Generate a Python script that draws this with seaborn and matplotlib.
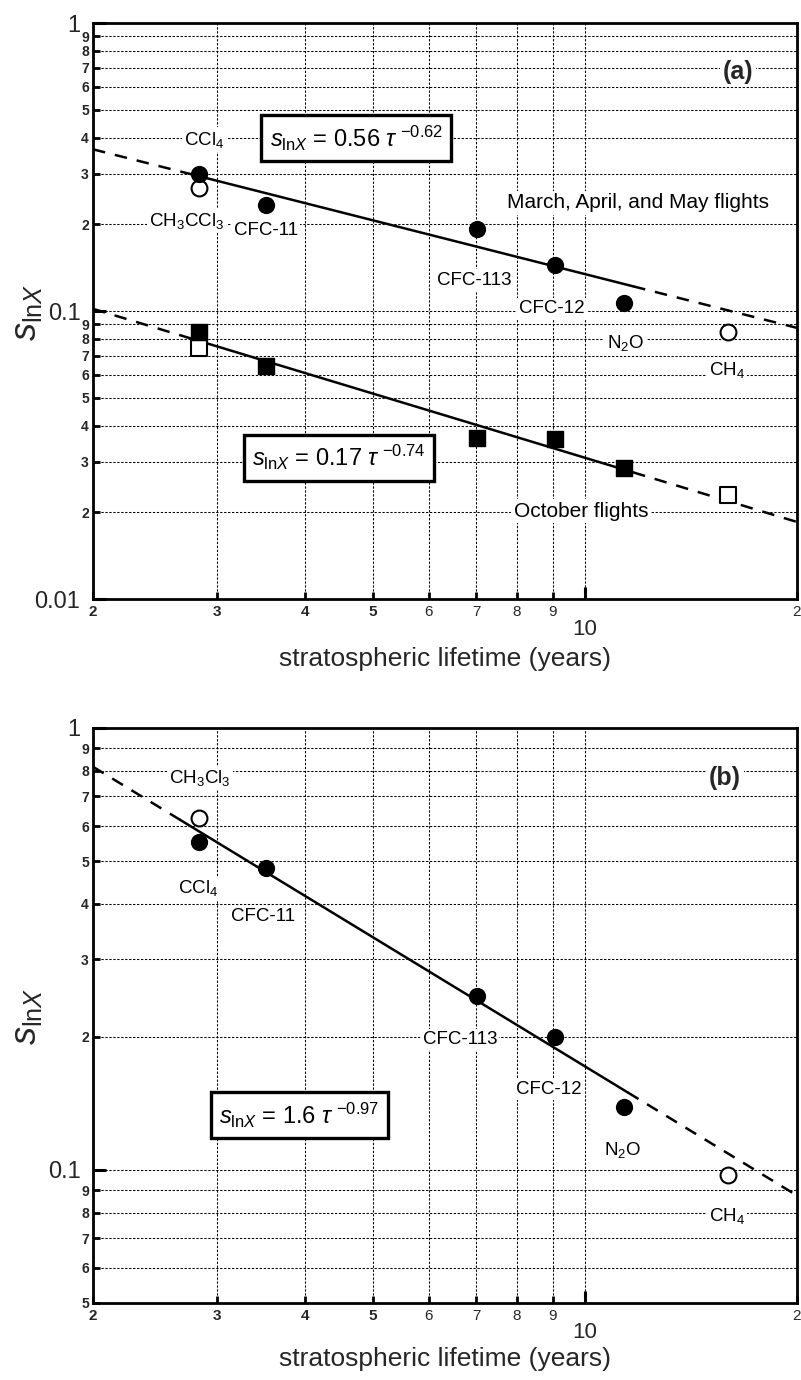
import numpy as np
import pandas as pd
import matplotlib
matplotlib.use("Agg")
import matplotlib.pyplot as plt
import seaborn as sns
from matplotlib.ticker import FixedLocator, FixedFormatter

# ---------------- data ----------------
species = ["CCl$_4$", "CH$_3$CCl$_3$", "CFC-11", "CFC-113", "CFC-12", "N$_2$O", "CH$_4$"]
tau = [2.83, 2.83, 3.52, 7.02, 9.05, 11.35, 15.95]           # stratospheric lifetime (years)
is_open = [False, True, False, False, False, False, True]

spring_a = [0.300, 0.268, 0.234, 0.193, 0.145, 0.107, 0.0845]    # March-May flights
october_a = [0.0845, 0.0743, 0.0643, 0.0362, 0.0360, 0.0284, 0.0229]  # October flights
panel_b = [0.553, 0.626, 0.483, 0.247, 0.200, 0.139, 0.0975]

# fitted power laws  s = A * tau^B
fit_spring = (0.56, -0.62)
fit_october = (0.17, -0.74)
fit_b = (1.6, -0.97)

x_ticks_minor = [2, 3, 4, 5, 6, 7, 8, 9, 20]
x_minor_labels = ["2", "3", "4", "5", "6", "7", "8", "9", "2"]
x_ticks_major = [10]
x_major_labels = ["10"]

# ---------------- style ----------------
sns.set_style("ticks")
plt.rcParams["font.family"] = ["Liberation Sans", "DejaVu Sans"]
plt.rcParams["mathtext.fontset"] = "custom"
plt.rcParams["mathtext.rm"] = "Liberation Sans"
plt.rcParams["mathtext.it"] = "Liberation Sans:italic"
plt.rcParams["mathtext.bf"] = "Liberation Sans:bold"

fig = plt.figure(figsize=(8.01, 13.8), dpi=100)
ax_a = fig.add_axes([0.1161, 0.5659, 0.8789, 0.4174])
ax_b = fig.add_axes([0.1161, 0.0558, 0.8789, 0.4167])

GRID_LS = (0, (2.2, 1.6))
DASH_LS = (0, (5, 4))


def setup_axes(ax, ymin, ymaj, ymaj_labels, ymin_ticks, ymin_labels):
    ax.set_xscale("log")
    ax.set_yscale("log")
    ax.set_xlim(2, 20)
    ax.set_ylim(ymin, 1)
    ax.xaxis.set_major_locator(FixedLocator(x_ticks_major))
    ax.xaxis.set_major_formatter(FixedFormatter(x_major_labels))
    ax.xaxis.set_minor_locator(FixedLocator(x_ticks_minor))
    ax.xaxis.set_minor_formatter(FixedFormatter(x_minor_labels))
    ax.yaxis.set_major_locator(FixedLocator(ymaj))
    ax.yaxis.set_major_formatter(FixedFormatter(ymaj_labels))
    ax.yaxis.set_minor_locator(FixedLocator(ymin_ticks))
    ax.yaxis.set_minor_formatter(FixedFormatter(ymin_labels))
    ax.grid(which="both", color="black", linestyle=GRID_LS, linewidth=0.75, zorder=0)
    for sp in ax.spines.values():
        sp.set_linewidth(2.0)
        sp.set_color("black")
    ax.tick_params(which="major", direction="in", length=9, width=2.2, color="black")
    ax.tick_params(which="minor", direction="in", length=5, width=2.0, color="black")
    ax.tick_params(axis="y", which="major", labelsize=17, pad=9)
    ax.tick_params(axis="y", which="minor", labelsize=10, pad=3)
    ax.tick_params(axis="x", which="major", labelsize=16, pad=14)
    ax.tick_params(axis="x", which="minor", labelsize=11, pad=4)
    for lab in ax.yaxis.get_minorticklabels():
        lab.set_fontweight("bold")
    for lab in ax.xaxis.get_minorticklabels()[:4]:
        lab.set_fontweight("bold")
    ax.set_axisbelow(True)


def fit_line(ax, A, B, x0, x1):
    segs = [(2.0, x0, DASH_LS), (x0, x1, "-"), (x1, 20.0, DASH_LS)]
    for a, b, ls in segs:
        xs = np.geomspace(a, b, 50)
        sns.lineplot(x=xs, y=A * xs ** B, ax=ax, color="black", linewidth=1.8,
                     linestyle=ls, estimator=None, sort=False, zorder=3)


def points(ax, values, marker, size):
    df = pd.DataFrame({"tau": tau, "s": values, "open": is_open})
    op = df[df["open"]]
    fl = df[~df["open"]]
    sns.scatterplot(data=op, x="tau", y="s", ax=ax, marker=marker, s=size,
                    facecolor="white", edgecolor="black", linewidth=1.5, zorder=4)
    sns.scatterplot(data=fl, x="tau", y="s", ax=ax, marker=marker, s=size,
                    color="black", edgecolor="black", linewidth=1.0, zorder=5)


WHITE = dict(boxstyle="square,pad=0.12", fc="white", ec="none")
CHEM = dict(ha="center", va="center", fontsize=13.5, color="black", bbox=WHITE, zorder=6)
LBL = dict(ha="center", va="center", fontsize=15, color="black", bbox=WHITE, zorder=6)
BOX = dict(ha="center", va="center", fontsize=17, color="black",
           bbox=dict(boxstyle="square,pad=0.35", fc="white", ec="black", lw=2.4), zorder=7)

# ---------------- panel (a) ----------------
setup_axes(ax_a, 0.01, [0.01, 0.1, 1], ["0.01", "0.1", "1"],
           [k * 0.01 for k in range(2, 10)] + [k * 0.1 for k in range(2, 10)],
           [str(k) for k in range(2, 10)] * 2)
fit_line(ax_a, *fit_spring, 2.72, 11.7)
fit_line(ax_a, *fit_october, 2.72, 11.7)
points(ax_a, spring_a, "o", 130)
points(ax_a, october_a, "s", 125)

pos_a = [(2.88, 0.394), (2.72, 0.206), (3.52, 0.190), (6.96, 0.128),
         (8.98, 0.102), (11.4, 0.0776), (15.9, 0.0622)]
for name, (px, py) in zip(species, pos_a):
    ax_a.text(px, py, name, **CHEM)
ax_a.text(11.9, 0.238, "March, April, and May flights", **LBL)
ax_a.text(9.86, 0.0202, "October flights", **LBL)
ax_a.text(16.5, 0.675, "(a)", ha="center", va="center", fontsize=18, fontweight="bold",
          bbox=WHITE, zorder=6)
ax_a.text(0.374, 0.800, r"$s_{\mathrm{ln}X}$ = 0.56 $\tau^{\ \mathrm{-0.62}}$",
          transform=ax_a.transAxes, **BOX)
ax_a.text(0.349, 0.245, r"$s_{\mathrm{ln}X}$ = 0.17 $\tau^{\ \mathrm{-0.74}}$",
          transform=ax_a.transAxes, **BOX)

# ---------------- panel (b) ----------------
setup_axes(ax_b, 0.05, [0.1, 1], ["0.1", "1"],
           [k * 0.01 for k in range(5, 10)] + [k * 0.1 for k in range(2, 10)],
           [str(k) for k in range(5, 10)] + [str(k) for k in range(2, 10)])
fit_line(ax_b, *fit_b, 2.66, 11.5)
points(ax_b, panel_b, "o", 130)

names_b = ["CCl$_4$", "CH$_3$Cl$_3$", "CFC-11", "CFC-113", "CFC-12", "N$_2$O", "CH$_4$"]
pos_b = [(2.82, 0.434), (2.84, 0.771), (3.49, 0.374), (6.64, 0.197),
         (8.87, 0.152), (11.3, 0.111), (15.9, 0.0787)]
for name, (px, py) in zip(names_b, pos_b):
    ax_b.text(px, py, name, **CHEM)
ax_b.text(15.8, 0.771, "(b)", ha="center", va="center", fontsize=18, fontweight="bold",
          bbox=WHITE, zorder=6)
ax_b.text(0.293, 0.327, r"$s_{\mathrm{ln}X}$ = 1.6 $\tau^{\ \mathrm{-0.97}}$",
          transform=ax_b.transAxes, **BOX)

# ---------------- axis titles ----------------
for ax, yc, xl in [(ax_a, 1 - 312 / 1380, -0.083), (ax_b, 1 - 1016 / 1380, -0.0765)]:
    ax.set_xlabel("")
    ax.set_ylabel("")
    fig.text(26 / 801, yc, r"$s_{\mathrm{ln}X}$", rotation=90, ha="center", va="center",
             fontsize=26)
    ax.text(0.5, xl, "stratospheric lifetime (years)", transform=ax.transAxes,
            ha="center", va="top", fontsize=19)

fig.savefig("out.png", dpi=100)
